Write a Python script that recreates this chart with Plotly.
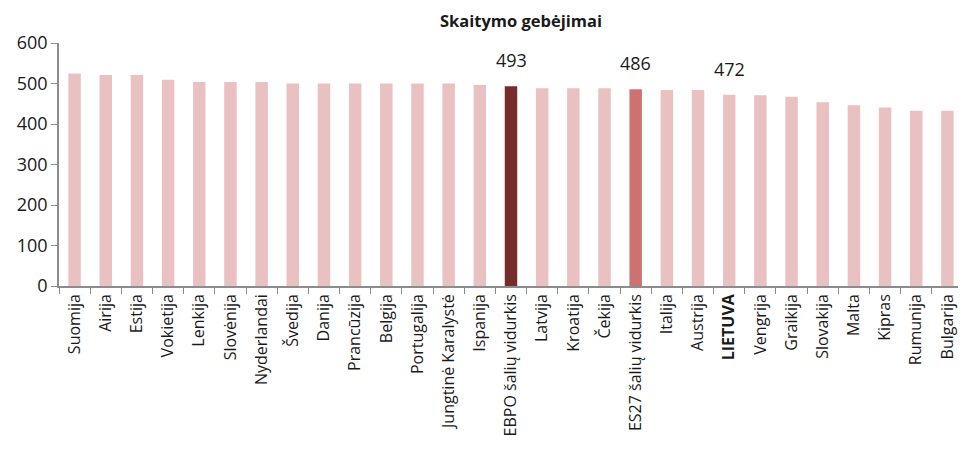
import plotly.graph_objects as go

# --- DATOS ---
salys = ["Suomija", "Airija", "Estija", "Vokietija", "Lenkija", "Slovėnija", "Nyderlandai",
         "Švedija", "Danija", "Prancūzija", "Belgija", "Portugalija", "Jungtinė Karalystė",
         "Ispanija", "EBPO šalių vidurkis", "Latvija", "Kroatija", "Čekija", "ES27 šalių vidurkis",
         "Italija", "Austrija", "LIETUVA", "Vengrija", "Graikija", "Slovakija", "Malta",
         "Kipras", "Rumunija", "Bulgarija"]
taskai = [525, 521, 521, 509, 504, 504, 504, 500, 500, 500, 500, 500, 500, 496, 493,
          488, 488, 488, 486, 484, 484, 472, 471, 467, 454, 446, 441, 433, 433]
pazymeti = {"EBPO šalių vidurkis": 493, "ES27 šalių vidurkis": 486, "LIETUVA": 472}
y_ticks = [0, 100, 200, 300, 400, 500, 600]

# spalvos
spalvos = []
for s in salys:
    if s == "EBPO šalių vidurkis": spalvos.append("#772B2B")
    elif s == "ES27 šalių vidurkis": spalvos.append("#CC7371")
    else: spalvos.append("#E9C1C1")

etiketes = ["<b>LIETUVA</b>" if s == "LIETUVA" else s for s in salys]

fig = go.Figure(go.Bar(x=etiketes, y=taskai, marker=dict(color=spalvos, line=dict(width=0)),
                       width=0.4, hoverinfo="x+y"))

# reiksmes virs stulpeliu
for s, v in pazymeti.items():
    x = "<b>LIETUVA</b>" if s == "LIETUVA" else s
    fig.add_annotation(x=x, y=v, text=str(v), showarrow=False, yanchor="bottom", yshift=12,
                       font=dict(size=18, color="#1a1a1a"))

# puslapis turi 8px body marza, todel figura mazesne
fig.update_layout(
    width=958, height=446, plot_bgcolor="white", paper_bgcolor="white",
    margin=dict(l=51, r=3, t=35, b=168),
    font=dict(family="Open Sans, Noto Sans, sans-serif", color="#1a1a1a"),
    title=dict(text="<b>Skaitymo gebėjimai</b>", x=0.5355, xanchor="center", y=0.971, yanchor="middle",
               font=dict(size=16.5, color="#1a1a1a")),
    showlegend=False, bargap=0.6,
)
fig.update_xaxes(tickangle=-90, tickfont=dict(size=16), showline=True, linecolor="#8c8c8c",
                 linewidth=1.5, ticks="outside", tickson="boundaries", ticklen=6,
                 tickcolor="#8c8c8c", showgrid=False, automargin=False)
fig.update_yaxes(range=[0, 600], tickvals=y_ticks, tickfont=dict(size=18), showline=True,
                 linecolor="#8c8c8c", linewidth=1.5, ticks="outside", ticklen=6,
                 tickcolor="#8c8c8c", showgrid=False, zeroline=False, automargin=False)

fig.write_html("out.html")
